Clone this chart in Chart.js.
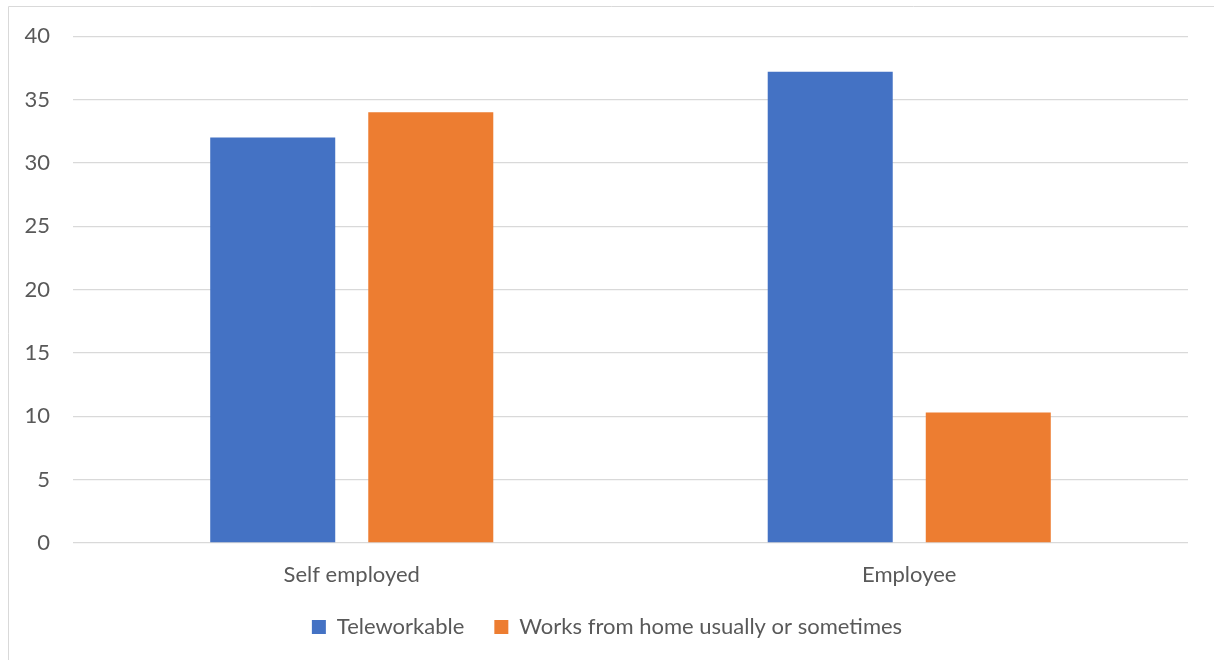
<!DOCTYPE html>
<html>
<head>
<meta charset="utf-8">
<script src="https://cdn.jsdelivr.net/npm/chart.js@4"></script>
<style>
  html, body { margin: 0; padding: 0; background: #fff; }
  #wrap { width: 1214px; height: 660px; position: relative; }
</style>
</head>
<body>
<div id="wrap"><canvas id="chart"></canvas></div>
<script>
const categories = ["Self employed", "Employee"];
const teleworkable = [32, 37.2];
const worksFromHome = [34, 10.3];
const seriesNames = ["Teleworkable", "Works from home usually or sometimes"];

const textColor = "#595959";
const gridColor = "#d9d9d9";

// thin frame round the chart, like the Excel export
const framePlugin = {
  id: "frame",
  beforeDraw(chart) {
    const ctx = chart.ctx;
    ctx.save();
    ctx.strokeStyle = gridColor;
    ctx.lineWidth = 1;
    ctx.beginPath();
    ctx.moveTo(8.5, chart.height + 5);
    ctx.lineTo(8.5, 6.5);
    ctx.lineTo(chart.width + 5, 6.5);
    ctx.stroke();
    ctx.restore();
  }
};

Chart.defaults.font.family = "Lato, 'Open Sans', sans-serif";
Chart.defaults.font.size = 22;
Chart.defaults.color = textColor;

new Chart(document.getElementById("chart"), {
  type: "bar",
  data: {
    labels: categories,
    datasets: [
      {
        label: seriesNames[0],
        data: teleworkable,
        backgroundColor: "#4472c4",
        categoryPercentage: 0.567,
        barPercentage: 0.791
      },
      {
        label: seriesNames[1],
        data: worksFromHome,
        backgroundColor: "#ed7d31",
        categoryPercentage: 0.567,
        barPercentage: 0.791
      }
    ]
  },
  options: {
    responsive: true,
    maintainAspectRatio: false,
    animation: false,
    layout: { padding: { left: 0, right: 0, top: 35, bottom: 12 } },
    plugins: {
      tooltip: { enabled: false },
      legend: {
        position: "bottom",
        labels: {
          boxWidth: 14,
          boxHeight: 14,
          padding: 30,
          color: textColor
        }
      }
    },
    scales: {
      x: {
        grid: { display: false, drawTicks: false },
        border: { display: false },
        ticks: { padding: 21, color: textColor, font: { lineHeight: 1 } },
        afterFit: (s) => { s.height = 43; }
      },
      y: {
        min: 0,
        max: 40,
        ticks: { stepSize: 5, padding: 23, color: textColor },
        grid: { color: gridColor, lineWidth: 1.3, drawTicks: false },
        border: { display: false },
        afterFit: (s) => { s.width = 73; }
      },
      // empty spacer on the right so the plot ends where the reference does
      spacer: {
        type: "linear",
        position: "right",
        grid: { display: false },
        border: { display: false },
        ticks: { display: false },
        afterFit: (s) => { s.width = 26; }
      }
    }
  },
  plugins: [framePlugin]
});
</script>
</body>
</html>
